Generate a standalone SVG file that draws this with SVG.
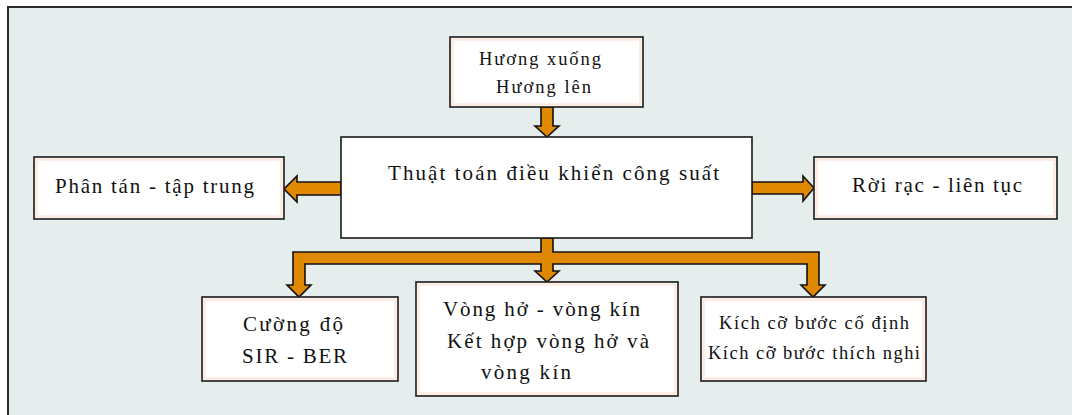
<svg xmlns="http://www.w3.org/2000/svg" width="1072" height="415" viewBox="0 0 1072 415">
  <style>
    .box { fill: #ffffff; stroke: #1a1a1a; stroke-width: 1.6; }
    .inner { fill: none; stroke: #fdeadf; stroke-width: 2.5; }
    .arrow { fill: #e08900; stroke: #111111; stroke-width: 1.6; stroke-linejoin: miter; }
    .t { font-family: "Liberation Serif", "Times New Roman", serif; font-size: 21px; fill: #111111; }
    .s { font-family: "Liberation Serif", "Times New Roman", serif; font-size: 18.5px; fill: #111111; }
  </style>

  <!-- page background and frame -->
  <rect x="0" y="0" width="1072" height="415" fill="#ffffff"/>
  <rect x="8" y="7" width="1080" height="420" fill="#e5eeec" stroke="#2a2a2a" stroke-width="2"/>

  <!-- connectors -->
  <g id="connectors">
    <!-- from top box down into the main box -->
    <polygon class="arrow" points="541,107 553,107 553,126 559,126 547,137 535,126 541,126"/>
    <!-- main box to the left box -->
    <polygon class="arrow" points="341,182 297,182 297,176 284,189 297,202 297,195 341,195"/>
    <!-- main box to the right box -->
    <polygon class="arrow" points="752,182 803,182 803,176 814,188 803,201 803,194 752,194"/>
    <!-- branching bus down to the three lower boxes -->
    <polygon class="arrow" points="541,238 553,238 553,252 819,252 819,285 825,285 813,297 801,285 807,285 807,264 553,264 553,271 559,271 547,282 535,271 541,271 541,264 305,264 305,285 311,285 299,297 287,285 293,285 293,252 541,252"/>
  </g>

  <g id="node-huong">
    <rect class="box" x="450" y="37" width="193" height="70"/>
    <rect class="inner" x="452.5" y="39.5" width="188" height="65"/>
    <text class="s" x="479" y="65" textLength="122" lengthAdjust="spacing">Hương xuống</text>
    <text class="s" x="496" y="93" textLength="95" lengthAdjust="spacing">Hương lên</text>
  </g>

  <g id="node-main">
    <rect class="box" x="341" y="137" width="411" height="101"/>
    <text class="t" x="388" y="180" textLength="331" lengthAdjust="spacing">Thuật toán điều khiển công suất</text>
  </g>

  <g id="node-phantan">
    <rect class="box" x="34" y="157" width="250" height="62"/>
    <rect class="inner" x="36.5" y="159.5" width="245" height="57"/>
    <text class="t" x="55" y="193" textLength="199" lengthAdjust="spacing">Phân tán - tập trung</text>
  </g>

  <g id="node-roirac">
    <rect class="box" x="814" y="157" width="243" height="62"/>
    <rect class="inner" x="816.5" y="159.5" width="238" height="57"/>
    <text class="t" x="852" y="192" textLength="170" lengthAdjust="spacing">Rời rạc - liên tục</text>
  </g>

  <g id="node-cuongdo">
    <rect class="box" x="202" y="297" width="196" height="84"/>
    <rect class="inner" x="204.5" y="299.5" width="191" height="79"/>
    <text class="t" x="243" y="331" textLength="100" lengthAdjust="spacing">Cường độ</text>
    <text class="t" x="242" y="363" textLength="105" lengthAdjust="spacing">SIR - BER</text>
  </g>

  <g id="node-vongho">
    <rect class="box" x="416" y="282" width="262" height="114"/>
    <rect class="inner" x="418.5" y="284.5" width="257" height="109"/>
    <text class="t" x="443" y="316" textLength="197" lengthAdjust="spacing">Vòng hở - vòng kín</text>
    <text class="t" x="447" y="348" textLength="202" lengthAdjust="spacing">Kết hợp vòng hở và</text>
    <text class="t" x="481" y="379" textLength="90" lengthAdjust="spacing">vòng kín</text>
  </g>

  <g id="node-kichco">
    <rect class="box" x="701" y="297" width="225" height="84"/>
    <rect class="inner" x="703.5" y="299.5" width="220" height="79"/>
    <text class="s" x="719" y="329" textLength="190" lengthAdjust="spacing">Kích cỡ bước cố định</text>
    <text class="s" x="708" y="359" textLength="212" lengthAdjust="spacing">Kích cỡ bước thích nghi</text>
  </g>
</svg>
